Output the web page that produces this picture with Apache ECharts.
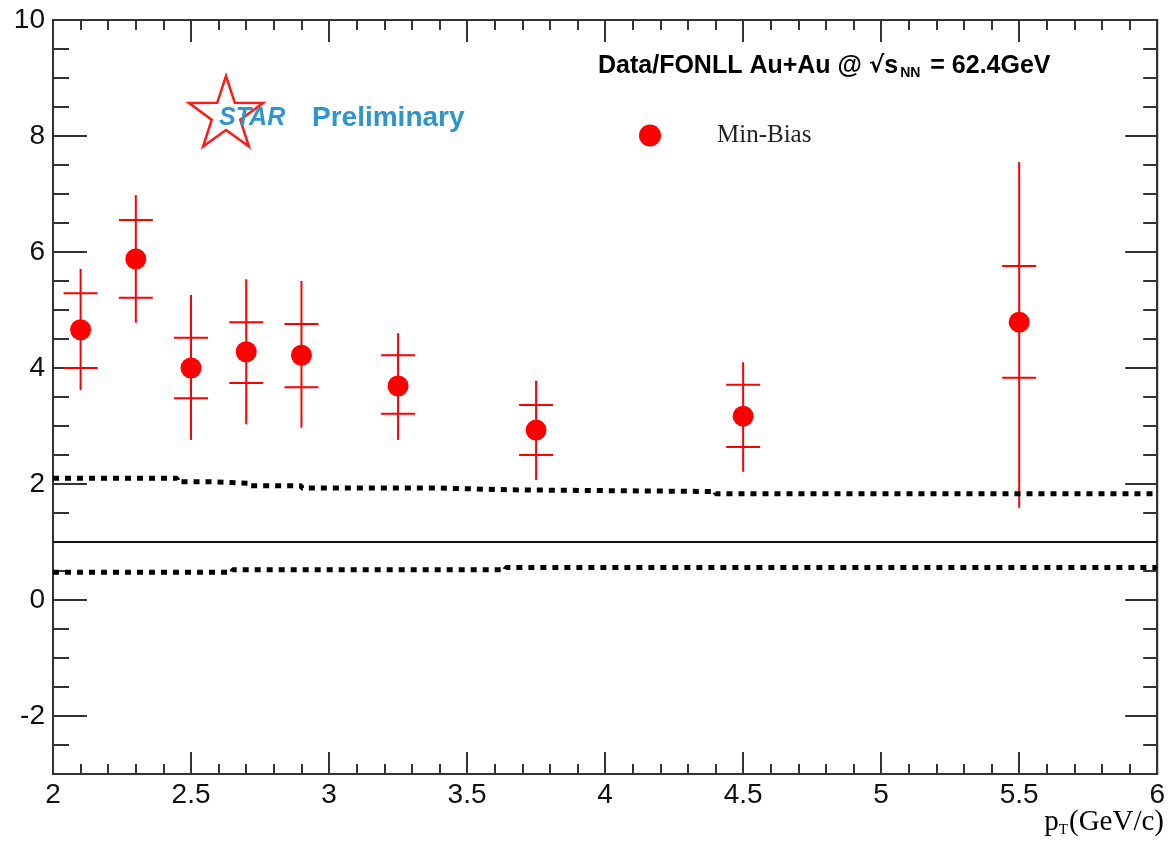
<!DOCTYPE html>
<html>
<head>
<meta charset="utf-8">
<script src="https://cdn.jsdelivr.net/npm/echarts@6/dist/echarts.min.js"></script>
<style>html,body{margin:0;padding:0;background:#fff;}#c{width:1168px;height:845px;}</style>
</head>
<body>
<div id="c"></div>
<script>
// ---- data ----
const ptValues  = [2.1, 2.3, 2.5, 2.7, 2.9, 3.25, 3.75, 4.5, 5.5];
const ratio     = [4.66, 5.88, 4.00, 4.28, 4.22, 3.69, 2.93, 3.17, 4.79];
const statLow   = [3.62, 4.78, 2.76, 3.03, 2.97, 2.76, 2.07, 2.21, 1.59];
const statHigh  = [5.71, 6.98, 5.26, 5.53, 5.50, 4.60, 3.78, 4.10, 7.55];
const sysLow    = [4.00, 5.21, 3.48, 3.74, 3.67, 3.21, 2.50, 2.64, 3.83];
const sysHigh   = [5.29, 6.55, 4.52, 4.79, 4.76, 4.22, 3.36, 3.71, 5.76];

const upperX    = [2.0, 2.45, 2.56, 2.71, 2.9, 3.4, 3.65, 4.4, 6.0];
const upperY    = [2.10, 2.04, 2.01, 1.97, 1.93, 1.90, 1.87, 1.83, 1.83];
const lowerX    = [2.0, 2.65, 3.64, 6.0];
const lowerY    = [0.48, 0.52, 0.56, 0.56];

const refLineY  = [1];
const yMajorTicks = [-2, 0, 2, 4, 6, 8, 10];
const yMinorTicks = [-2.5, -1.5, -1, -0.5, 0.5, 1, 1.5, 2.5, 3, 3.5, 4.5, 5, 5.5, 6.5, 7, 7.5, 8.5, 9, 9.5];
const xRange = [2, 6];
const yRange = [-3, 10];
const seriesName = 'Min-Bias';

// ---- chart ----
const axisColor = '#333';
const chart = echarts.init(document.getElementById('c'));

const pointData = ptValues.map((x, i) => [x, ratio[i]]);
const errData = ptValues.map((x, i) => [x, ratio[i], statLow[i], statHigh[i], sysLow[i], sysHigh[i]]);

function yAxisDef(pos, ticks, len, showLine, showLabel) {
  return {
    type: 'value', position: pos, min: yRange[0], max: yRange[1],
    splitLine: { show: false },
    axisLine: { show: showLine, onZero: false, lineStyle: { color: axisColor, width: 2 } },
    axisTick: { show: true, inside: true, length: len, customValues: ticks, lineStyle: { color: axisColor, width: 2 } },
    axisLabel: showLabel ? { show: true, customValues: ticks, fontSize: 28, fontFamily: 'Liberation Sans', color: '#111', margin: 8 } : { show: false }
  };
}
function xAxisDef(pos, showLabel) {
  return {
    type: 'value', position: pos, min: xRange[0], max: xRange[1], interval: 0.5,
    splitLine: { show: false },
    axisLine: { show: true, onZero: false, lineStyle: { color: axisColor, width: 2 } },
    axisTick: { show: true, inside: true, length: 22, lineStyle: { color: axisColor, width: 2 } },
    minorTick: { show: true, splitNumber: 5, length: 10, lineStyle: { color: axisColor, width: 2 } },
    minorSplitLine: { show: false },
    axisLabel: showLabel ? { show: true, fontSize: 28, fontFamily: 'Liberation Sans', color: '#111', margin: 7, showMinLabel: true, showMaxLabel: true } : { show: false }
  };
}

// star outline points (logo decoration)
const starPts = [];
(function(){
  const cx = 226, cy = 115, R = 39, r = 15;
  for (let k = 0; k < 10; k++) {
    const a = -Math.PI / 2 + k * Math.PI / 5;
    const rr = k % 2 === 0 ? R : r;
    starPts.push([cx + rr * Math.cos(a), cy + rr * Math.sin(a)]);
  }
})();

chart.setOption({
  animation: false,
  backgroundColor: '#fff',
  grid: { left: 53, right: 10, top: 20, bottom: 71, show: true, borderColor: axisColor, borderWidth: 2, backgroundColor: 'transparent' },
  xAxis: [xAxisDef('bottom', true), xAxisDef('top', false)],
  yAxis: [
    yAxisDef('left', yMajorTicks, 34, true, true),
    yAxisDef('left', yMinorTicks, 16, false, false),
    yAxisDef('right', yMajorTicks, 32, true, false),
    yAxisDef('right', yMinorTicks, 14, false, false)
  ],
  title: {
    left: 593, top: 47,
    text: '{a|Data/FONLL Au+Au @ }{r|√}{a|s}{sub|NN}{a| = 62.4GeV}',
    textStyle: {
      rich: {
        a: { fontFamily: 'Liberation Sans', fontWeight: 'bold', fontSize: 25, color: '#000' },
        r: { fontFamily: 'DejaVu Sans', fontSize: 23, color: '#000' },
        sub: { fontFamily: 'Liberation Sans', fontWeight: 'bold', fontSize: 14, color: '#000', padding: [14, 3, 0, 2] }
      }
    }
  },
  legend: {
    left: 634, top: 118, itemWidth: 22, itemHeight: 22, icon: 'circle',
    data: [seriesName],
    textStyle: { fontFamily: 'Liberation Serif', fontSize: 25, color: '#222', padding: [0, 0, 0, 51] }
  },
  graphic: [
    { type: 'polygon', shape: { points: starPts }, style: { fill: 'none', stroke: '#ff1a1a', lineWidth: 2.5 } },
    { type: 'text', left: 219, top: 106, style: { text: 'STAR', font: 'italic bold 25px "Liberation Sans"', fill: '#2e95cf' } },
    { type: 'text', left: 312, top: 104, style: { text: 'Preliminary', font: 'bold 28px "Liberation Sans"', fill: '#2e95cf' } },
    { type: 'text', right: 4, top: 808, style: {
        text: '{p|p}{t|T}{p|(GeV/c)}',
        rich: {
          p: { fontFamily: 'Liberation Serif', fontSize: 29, color: '#222' },
          t: { fontFamily: 'Liberation Serif', fontSize: 15, color: '#222', padding: [16, 1, 0, 0] }
        }
    } }
  ],
  series: [
    {
      type: 'line', xAxisIndex: 0, yAxisIndex: 0, step: 'end', symbol: 'none', silent: true,
      data: upperX.map((x, i) => [x, upperY[i]]),
      lineStyle: { color: '#000', width: 5, type: [6, 6] }
    },
    {
      type: 'line', xAxisIndex: 0, yAxisIndex: 0, step: 'end', symbol: 'none', silent: true,
      data: lowerX.map((x, i) => [x, lowerY[i]]),
      lineStyle: { color: '#000', width: 5, type: [6, 6] }
    },
    {
      type: 'custom', xAxisIndex: 0, yAxisIndex: 0, silent: true,
      data: errData,
      renderItem: function (params, api) {
        const x = api.value(0);
        const pLo = api.coord([x, api.value(2)]);
        const pHi = api.coord([x, api.value(3)]);
        const sLo = api.coord([x, api.value(4)]);
        const sHi = api.coord([x, api.value(5)]);
        const hw = 17;
        const st = { stroke: '#ff0000', lineWidth: 2 };
        return { type: 'group', children: [
          { type: 'line', shape: { x1: pLo[0], y1: pLo[1], x2: pHi[0], y2: pHi[1] }, style: st },
          { type: 'line', shape: { x1: sLo[0] - hw, y1: sLo[1], x2: sLo[0] + hw, y2: sLo[1] }, style: st },
          { type: 'line', shape: { x1: sHi[0] - hw, y1: sHi[1], x2: sHi[0] + hw, y2: sHi[1] }, style: st }
        ] };
      }
    },
    {
      name: seriesName, type: 'scatter', xAxisIndex: 0, yAxisIndex: 0,
      symbol: 'circle', symbolSize: 21, itemStyle: { color: '#ff0000', opacity: 1 },
      data: pointData,
      markLine: {
        silent: true, symbol: 'none', label: { show: false },
        lineStyle: { color: '#111', width: 2, type: 'solid' },
        data: refLineY.map(v => ({ yAxis: v }))
      }
    }
  ]
});
</script>
</body>
</html>
